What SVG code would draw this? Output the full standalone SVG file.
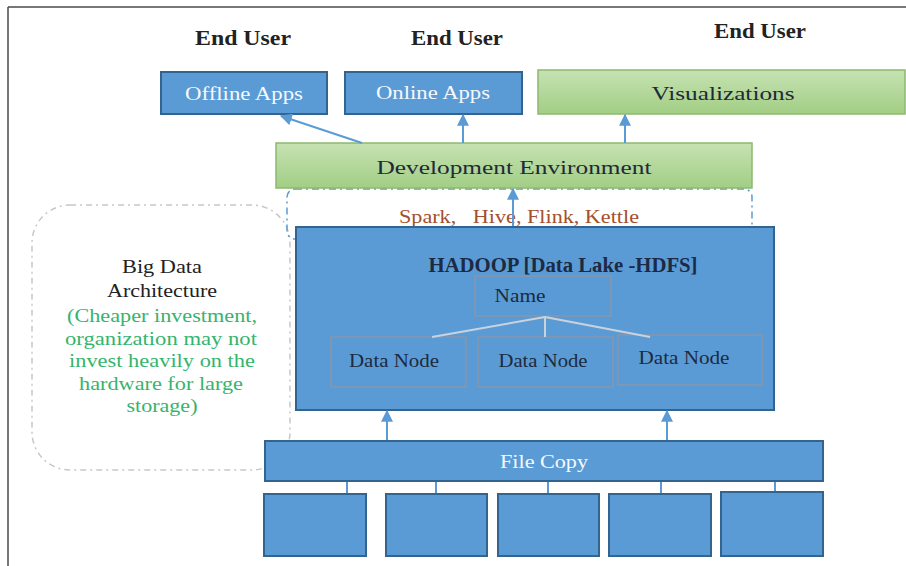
<svg xmlns="http://www.w3.org/2000/svg" width="906" height="566" viewBox="0 0 906 566">
<defs>
<linearGradient id="gg" x1="0" y1="0" x2="0" y2="1">
<stop offset="0" stop-color="#c6e2b2"/>
<stop offset="1" stop-color="#a2ce85"/>
</linearGradient>
<marker id="ah" viewBox="0 0 10 10" refX="9" refY="5" markerWidth="12" markerHeight="12" markerUnits="userSpaceOnUse" orient="auto">
<path d="M0,0 L10,5 L0,10 z" fill="#5b9bd5"/>
</marker>
<style>
text{font-family:"Liberation Serif","Times New Roman",serif;}
.blue{fill:#5b9bd5;stroke:#33638f;stroke-width:2;}
.green{fill:url(#gg);stroke:#8db870;stroke-width:1.5;}
.inner{fill:none;stroke:#8797aa;stroke-width:1.5;}
.eu{font-size:20px;font-weight:bold;fill:#222;text-anchor:middle;}
.wt{font-size:19px;fill:#f5f8fc;text-anchor:middle;}
.dk{font-size:19px;fill:#1e2a3a;text-anchor:middle;}
.nd{font-size:18px;fill:#1d2a40;text-anchor:middle;}
.gr{font-size:19px;fill:#35b46d;text-anchor:middle;}
.bk{font-size:19px;fill:#222;text-anchor:middle;}
.conn{stroke:#5b9bd5;stroke-width:2;fill:none;}
</style>
</defs>
<rect x="0" y="0" width="906" height="566" fill="#ffffff"/>
<g id="frame">
<line x1="8" y1="7" x2="906" y2="7" stroke="#4a4a4a" stroke-width="1.5"/>
<line x1="8" y1="7" x2="8" y2="566" stroke="#4a4a4a" stroke-width="1.5"/>
</g>

<g id="bigdata">
<rect x="32" y="205" width="258" height="265" rx="38" fill="none" stroke="#c8c8c8" stroke-width="1.5" stroke-dasharray="6 4 2 4"/>
<text class="bk" x="162" y="273" textLength="80" lengthAdjust="spacingAndGlyphs">Big Data</text>
<text class="bk" x="162" y="297" textLength="110" lengthAdjust="spacingAndGlyphs">Architecture</text>
<text class="gr" x="162" y="322" textLength="190" lengthAdjust="spacingAndGlyphs">(Cheaper investment,</text>
<text class="gr" x="161" y="345" textLength="192" lengthAdjust="spacingAndGlyphs">organization may not</text>
<text class="gr" x="162" y="367" textLength="186" lengthAdjust="spacingAndGlyphs">invest heavily on the</text>
<text class="gr" x="161" y="390" textLength="164" lengthAdjust="spacingAndGlyphs">hardware for large</text>
<text class="gr" x="162" y="412" textLength="71" lengthAdjust="spacingAndGlyphs">storage)</text>
</g>

<g id="enduser-labels">
<text class="eu" x="243" y="45" textLength="96" lengthAdjust="spacingAndGlyphs">End User</text>
<text class="eu" x="457" y="45" textLength="92" lengthAdjust="spacingAndGlyphs">End User</text>
<text class="eu" x="760" y="38" textLength="92" lengthAdjust="spacingAndGlyphs">End User</text>
</g>

<g id="offline-apps">
<rect class="blue" x="161" y="72" width="166" height="42"/>
<text class="wt" x="244" y="100" textLength="118" lengthAdjust="spacingAndGlyphs">Offline Apps</text>
</g>
<g id="online-apps">
<rect class="blue" x="345" y="72" width="177" height="42"/>
<text class="wt" x="433" y="99" textLength="114" lengthAdjust="spacingAndGlyphs">Online Apps</text>
</g>
<g id="visualizations">
<rect class="green" x="538" y="70" width="367" height="44"/>
<text class="dk" x="723" y="100" textLength="143" lengthAdjust="spacingAndGlyphs">Visualizations</text>
</g>

<g id="tools">
<rect x="287" y="189" width="465" height="50" rx="8" fill="none" stroke="#5b9bd5" stroke-width="1.5" stroke-dasharray="7 4 2 4"/>
<text x="519" y="223" font-size="19" fill="#a4502a" text-anchor="middle" textLength="240" lengthAdjust="spacingAndGlyphs" style="white-space:pre">Spark,   Hive, Flink, Kettle</text>
</g>

<g id="dev-env">
<rect class="green" x="276" y="143" width="476" height="45"/>
<text class="dk" x="514" y="174" textLength="275" lengthAdjust="spacingAndGlyphs">Development Environment</text>
</g>

<g id="hadoop">
<rect class="blue" x="296" y="227" width="478" height="183"/>
<text x="563" y="272" font-size="20" font-weight="bold" fill="#1c2a44" text-anchor="middle" textLength="269" lengthAdjust="spacingAndGlyphs">HADOOP [Data Lake -HDFS]</text>
</g>
<g id="name-node">
<rect class="inner" x="475" y="276" width="136" height="40"/>
<text class="nd" x="520" y="302" textLength="51" lengthAdjust="spacingAndGlyphs">Name</text>
</g>
<g id="data-node-1">
<rect class="inner" x="331" y="337" width="135" height="50"/>
<text class="nd" x="394" y="367" textLength="90" lengthAdjust="spacingAndGlyphs">Data Node</text>
</g>
<g id="data-node-2">
<rect class="inner" x="478" y="337" width="135" height="50"/>
<text class="nd" x="543" y="367" textLength="89" lengthAdjust="spacingAndGlyphs">Data Node</text>
</g>
<g id="data-node-3">
<rect class="inner" x="618" y="335" width="144" height="50"/>
<text class="nd" x="684" y="364" textLength="91" lengthAdjust="spacingAndGlyphs">Data Node</text>
</g>

<g id="file-copy">
<rect class="blue" x="265" y="441" width="558" height="40"/>
<text class="wt" x="544" y="468" textLength="88" lengthAdjust="spacingAndGlyphs">File Copy</text>
</g>
<g id="source-1"><rect class="blue" x="264" y="494" width="102" height="62"/></g>
<g id="source-2"><rect class="blue" x="386" y="494" width="101" height="62"/></g>
<g id="source-3"><rect class="blue" x="498" y="494" width="101" height="62"/></g>
<g id="source-4"><rect class="blue" x="609" y="494" width="102" height="62"/></g>
<g id="source-5"><rect class="blue" x="721" y="492" width="102" height="64"/></g>

<g id="connectors">
<line class="conn" x1="362" y1="143" x2="281" y2="116" marker-end="url(#ah)"/>
<line class="conn" x1="463" y1="143" x2="463" y2="115" marker-end="url(#ah)"/>
<line class="conn" x1="625" y1="143" x2="625" y2="115" marker-end="url(#ah)"/>
<line class="conn" x1="513" y1="226" x2="513" y2="189" marker-end="url(#ah)"/>
<line class="conn" x1="387" y1="440" x2="387" y2="411" marker-end="url(#ah)"/>
<line class="conn" x1="667" y1="440" x2="667" y2="411" marker-end="url(#ah)"/>
<g stroke="#c9d3de" stroke-width="2">
<line x1="545" y1="317" x2="432" y2="337"/>
<line x1="545" y1="317" x2="545" y2="337"/>
<line x1="545" y1="317" x2="650" y2="337"/>
</g>
<g stroke="#5b9bd5" stroke-width="2">
<line x1="347" y1="482" x2="347" y2="493"/>
<line x1="436" y1="482" x2="436" y2="493"/>
<line x1="548" y1="482" x2="548" y2="493"/>
<line x1="661" y1="482" x2="661" y2="493"/>
<line x1="775" y1="482" x2="775" y2="491"/>
</g>
</g>
</svg>
